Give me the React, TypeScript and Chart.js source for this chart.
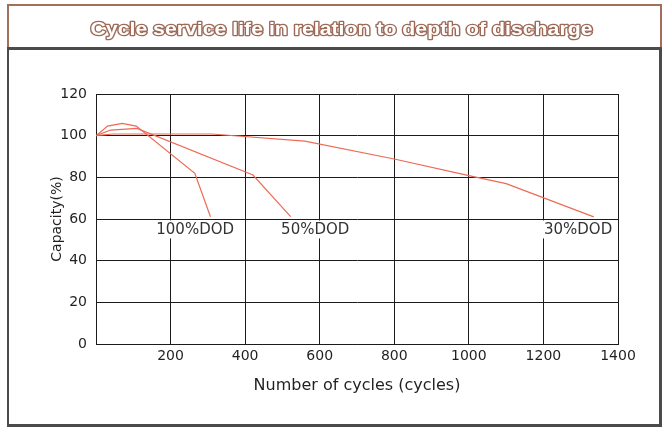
import React, { useEffect, useRef } from "react";
import { Chart, registerables } from "chart.js";

Chart.register(...registerables);

// ---- data ----
const chartTitle = "Cycle service life in relation to depth of discharge";
const xAxisTitle = "Number of cycles (cycles)";
const yAxisTitle = "Capacity(%)";

const xTickValues = [0, 200, 400, 600, 800, 1000, 1200, 1400];
const yTickValues = [0, 20, 40, 60, 80, 100, 120];

const seriesNames = ["100%DOD", "50%DOD", "30%DOD"];

const dod100Cycles = [0, 31, 70, 108, 265, 307];
const dod100Capacity = [100, 104.6, 105.9, 104.6, 81.9, 61.1];

const dod50Cycles = [0, 39, 110, 421, 522];
const dod50Capacity = [100, 102.7, 103.5, 81.1, 61.1];

const dod30Cycles = [0, 45, 310, 560, 800, 1000, 1100, 1335];
const dod30Capacity = [100, 100.8, 100.8, 97.4, 88.8, 80.8, 77, 61];

// annotation anchors (in data units)
const labelCycles = [266, 588, 1293];
const labelCapacity = [55, 55, 55];

const FONT = '"DejaVu Sans", sans-serif';
const TEXT = "#231f20";
const GRID = "#1c1a1a";
const LINE = "#ee6a55";

const toPoints = (xs: number[], ys: number[]) => xs.map((x, i) => ({ x, y: ys[i] }));

const framePlugin = {
  id: "frame",
  beforeDraw(chart: any) {
    const ctx = chart.ctx as CanvasRenderingContext2D;
    ctx.save();
    ctx.fillStyle = "#ffffff";
    ctx.fillRect(0, 0, chart.width, chart.height);

    // title box (brown)
    ctx.strokeStyle = "#a36f5d";
    ctx.lineWidth = 2;
    ctx.beginPath();
    ctx.moveTo(7, 5);
    ctx.lineTo(662, 5);
    ctx.moveTo(8, 4);
    ctx.lineTo(8, 48);
    ctx.moveTo(661, 4);
    ctx.lineTo(661, 48);
    ctx.stroke();

    // lower box (dark gray)
    ctx.strokeStyle = "#4b4b4d";
    ctx.lineWidth = 3;
    ctx.beginPath();
    ctx.moveTo(7, 48.5);
    ctx.lineTo(662, 48.5);
    ctx.moveTo(660.5, 47);
    ctx.lineTo(660.5, 427);
    ctx.moveTo(7, 425.5);
    ctx.lineTo(662, 425.5);
    ctx.stroke();
    ctx.lineWidth = 2;
    ctx.beginPath();
    ctx.moveTo(8, 47);
    ctx.lineTo(8, 427);
    ctx.stroke();

    // outlined title
    ctx.font = 'bold 19px "Liberation Sans", Arial, sans-serif';
    const w = ctx.measureText(chartTitle).width;
    const sx = 502 / w;
    ctx.translate(341.5, 35);
    ctx.scale(sx, 1);
    ctx.textAlign = "center";
    ctx.textBaseline = "alphabetic";
    ctx.lineJoin = "round";
    ctx.lineWidth = 2.6;
    ctx.strokeStyle = "#9e6a58";
    ctx.strokeText(chartTitle, 0, 0);
    ctx.fillStyle = "#ffffff";
    ctx.fillText(chartTitle, 0, 0);
    ctx.restore();
  },
  afterDatasetsDraw(chart: any) {
    const ctx = chart.ctx as CanvasRenderingContext2D;
    const xs = chart.scales.x;
    const ys = chart.scales.y;
    ctx.save();
    ctx.font = `15px ${FONT}`;
    ctx.textAlign = "center";
    ctx.textBaseline = "middle";
    seriesNames.forEach((name, i) => {
      const px = xs.getPixelForValue(labelCycles[i]);
      const py = ys.getPixelForValue(labelCapacity[i]);
      const tw = ctx.measureText(name).width;
      ctx.fillStyle = "#ffffff";
      ctx.fillRect(px - tw / 2 - 3, py - 9, tw + 6, 18);
      ctx.fillStyle = "#333333";
      ctx.fillText(name, px, py + 1);
    });
    ctx.restore();
  },
};

export default function App() {
  const ref = useRef<HTMLCanvasElement | null>(null);

  useEffect(() => {
    if (!ref.current) return;
    Chart.defaults.font.family = FONT;
    const chart = new Chart(ref.current, {
      type: "line",
      data: {
        datasets: [
          { label: seriesNames[0], data: toPoints(dod100Cycles, dod100Capacity) },
          { label: seriesNames[1], data: toPoints(dod50Cycles, dod50Capacity) },
          { label: seriesNames[2], data: toPoints(dod30Cycles, dod30Capacity) },
        ].map((d) => ({
          ...d,
          borderColor: LINE,
          backgroundColor: LINE,
          borderWidth: 1.2,
          pointRadius: 0,
          tension: 0,
          fill: false,
        })),
      },
      options: {
        animation: false,
        responsive: false,
        maintainAspectRatio: false,
        layout: { padding: { left: 49, right: 52, top: 94, bottom: 34 } },
        plugins: { legend: { display: false }, tooltip: { enabled: false } },
        scales: {
          x: {
            type: "linear",
            min: 0,
            max: 1400,
            afterBuildTicks: (s: any) => {
              s.ticks = xTickValues.map((v) => ({ value: v }));
            },
            afterFit: (s: any) => {
              s.height = 51;
            },
            ticks: {
              font: { size: 14, family: FONT },
              color: TEXT,
              padding: 4,
              maxRotation: 0,
              autoSkip: false,
              callback: (v: any) => (v === 0 ? "" : String(v)),
            },
            grid: { color: GRID, lineWidth: 1, drawTicks: false },
            border: { color: GRID, width: 1 },
            title: {
              display: true,
              text: xAxisTitle,
              font: { size: 16, family: FONT },
              color: TEXT,
              padding: 0,
            },
          },
          y: {
            type: "linear",
            min: 0,
            max: 120,
            afterBuildTicks: (s: any) => {
              s.ticks = yTickValues.map((v) => ({ value: v }));
            },
            afterFit: (s: any) => {
              s.width = 47;
            },
            ticks: {
              font: { size: 14, family: FONT },
              color: TEXT,
              padding: 9,
            },
            grid: { color: GRID, lineWidth: 1, drawTicks: false },
            border: { color: GRID, width: 1 },
            title: {
              display: true,
              text: yAxisTitle,
              font: { size: 14, family: FONT },
              color: TEXT,
              padding: 0,
            },
          },
        },
      },
      plugins: [framePlugin],
    } as any);
    return () => chart.destroy();
  }, []);

  return (
    <div style={{ position: "fixed", left: 0, top: 0, width: 670, height: 429, background: "#fff" }}>
      <canvas ref={ref} width={670} height={429} style={{ display: "block", width: 670, height: 429 }} />
    </div>
  );
}
